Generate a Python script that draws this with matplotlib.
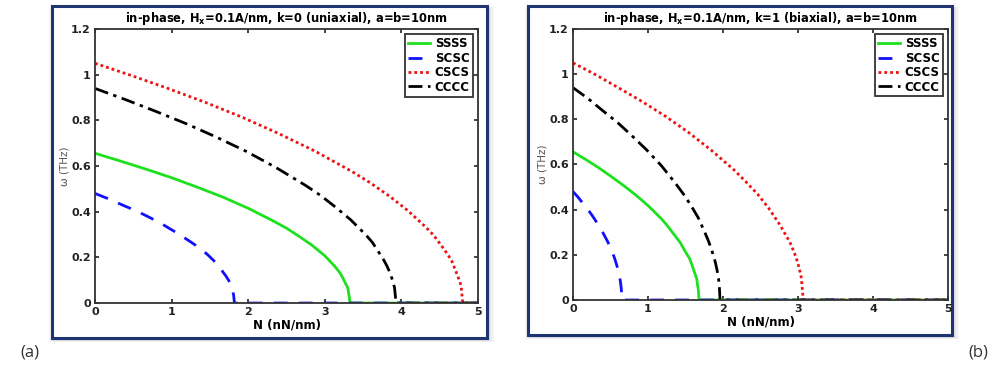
import numpy as np
import matplotlib.pyplot as plt
from matplotlib.patches import Rectangle

plt.rcParams['font.family'] = ['DejaVu Sans']
plt.rcParams['mathtext.fontset'] = 'dejavusans'

labels = ['SSSS', 'SCSC', 'CSCS', 'CCCC']
titles = ['in-phase, H$_\\mathbf{x}$=0.1A/nm, k=0 (uniaxial), a=b=10nm',
          'in-phase, H$_\\mathbf{x}$=0.1A/nm, k=1 (biaxial), a=b=10nm']

# omega values (THz), same shape in both panels
w_ssss = [0.656, .622, .586, .549, .508, .464, .415, .359, .328, .293, .254, .207, .186, .161, .131, .113, .093, .066, .047, 0, 0]
w_scsc = [0.48, .456, .429, .402, .372, .339, .303, .263, .24, .215, .186, .152, .136, .118, .096, .083, .068, .048, .034, 0, 0]
w_cscs = [1.05, .996, .939, .879, .814, .742, .664, .575, .525, .469, .406, .332, .297, .257, .21, .182, .148, .105, .075, 0, 0]
w_cccc = [0.94, .892, .840, .787, .729, .665, .594, .515, .47, .420, .364, .297, .266, .230, .188, .163, .133, .094, .067, 0, 0]

# N positions (nN/nm), panel (a) uniaxial
Na_ssss = [0, .33, .67, 1.0, 1.33, 1.67, 2.0, 2.33, 2.5, 2.66, 2.83, 3.0, 3.06, 3.13, 3.2, 3.23, 3.26, 3.30, 3.31, 3.33, 5]
Na_scsc = [0, .18, .36, .55, .73, .91, 1.09, 1.27, 1.37, 1.46, 1.55, 1.64, 1.67, 1.71, 1.75, 1.77, 1.78, 1.80, 1.81, 1.82, 5]
Na_cscs = [0, .48, .96, 1.44, 1.92, 2.4, 2.88, 3.36, 3.6, 3.84, 4.08, 4.32, 4.42, 4.51, 4.61, 4.66, 4.70, 4.75, 4.78, 4.8, 5]
Na_cccc = [0, .39, .79, 1.18, 1.57, 1.97, 2.36, 2.75, 2.95, 3.14, 3.34, 3.54, 3.62, 3.69, 3.77, 3.81, 3.85, 3.89, 3.91, 3.93, 5]

# panel (b) biaxial
Nb_ssss = [0, .17, .34, .50, .67, .84, 1.01, 1.18, 1.26, 1.34, 1.43, 1.51, 1.55, 1.58, 1.61, 1.63, 1.65, 1.66, 1.67, 1.68, 5]
Nb_scsc = [0, .065, .13, .195, .26, .325, .39, .455, .488, .52, .553, .585, .598, .611, .624, .631, .637, .644, .647, .65, 5]
Nb_cscs = [0, .31, .61, .92, 1.23, 1.54, 1.84, 2.15, 2.3, 2.46, 2.61, 2.76, 2.82, 2.89, 2.95, 2.98, 3.01, 3.04, 3.05, 3.07, 5]
Nb_cccc = [0, .2, .39, .59, .78, .98, 1.18, 1.37, 1.47, 1.57, 1.67, 1.76, 1.80, 1.84, 1.88, 1.90, 1.92, 1.94, 1.95, 1.96, 5]

xticks = [0, 1, 2, 3, 4, 5]
yticks = [0, 0.2, 0.4, 0.6, 0.8, 1, 1.2]
yticklabels = ['0', '0.2', '0.4', '0.6', '0.8', '1', '1.2']

styles = [dict(color='#1ee01e', ls='-'),
          dict(color='#1010ff', ls=(0, (5, 4))),
          dict(color='#ee1111', ls=(0, (1, 1.1))),
          dict(color='black', ls=(0, (5, 2, 1.2, 2)))]

fig = plt.figure(figsize=(9.99, 3.66), dpi=100)

# frames with soft shadow
frames = [(0.052, 0.0765, 0.4354, 0.907), (0.5285, 0.0847, 0.4244, 0.899)]
for (x0, y0, w, h) in frames:
    for i, a in enumerate([0.05, 0.06, 0.08, 0.10]):
        d = (4 - i) * 0.0012
        fig.patches.append(Rectangle((x0 + 0.002 - d, y0 - 0.006 - d), w + 2 * d, h + 2 * d,
                                     transform=fig.transFigure, facecolor='#808080',
                                     edgecolor='none', alpha=a, zorder=0))
    fig.patches.append(Rectangle((x0, y0), w, h, transform=fig.transFigure,
                                 facecolor='white', edgecolor='#1f3473', lw=2.2, zorder=1))

ax_pos = [[0.0951, 0.172, 0.3834, 0.7486], [0.5736, 0.1803, 0.3754, 0.7405]]
data = [[(Na_ssss, w_ssss), (Na_scsc, w_scsc), (Na_cscs, w_cscs), (Na_cccc, w_cccc)],
        [(Nb_ssss, w_ssss), (Nb_scsc, w_scsc), (Nb_cscs, w_cscs), (Nb_cccc, w_cccc)]]

for k in range(2):
    ax = fig.add_axes(ax_pos[k])
    ax.set_zorder(2)
    for (N, w), st, lab in zip(data[k], styles, labels):
        ax.plot(N, w, lw=2.0, label=lab, **st)
    ax.set_xlim(0, 5)
    ax.set_ylim(0, 1.2)
    ax.set_xticks(xticks)
    ax.set_yticks(yticks)
    ax.set_yticklabels(yticklabels)
    ax.tick_params(direction='in', top=True, right=True, length=3, width=1.2,
                   labelsize=8, pad=3, colors='#222222')
    for t in ax.get_xticklabels() + ax.get_yticklabels():
        t.set_fontweight('bold')
    for s in ax.spines.values():
        s.set_linewidth(1.3)
        s.set_color('#333333')
    ax.set_title(titles[k], fontsize=8.3, fontweight='bold', pad=5)
    ax.set_xlabel('N (nN/nm)', fontsize=8.5, fontweight='bold', labelpad=1)
    ax.set_ylabel('ω (THz)', fontsize=7.5, color='#555555', labelpad=1)
    leg = ax.legend(loc='upper right', handlelength=1.9, handletextpad=0.4,
                    borderpad=0.25, labelspacing=0.12, fancybox=False, framealpha=1,
                    borderaxespad=0.45, prop={'weight': 'bold', 'size': 8.5})
    leg.get_frame().set_edgecolor('#333333')
    leg.get_frame().set_linewidth(1.3)

fig.text(0.02, 0.038, '(a)', fontsize=12, color='#333333', family='Open Sans', va='center')
fig.text(0.979, 0.038, '(b)', fontsize=12, color='#333333', family='Open Sans', va='center', ha='center')

fig.savefig('out.png', dpi=100)
